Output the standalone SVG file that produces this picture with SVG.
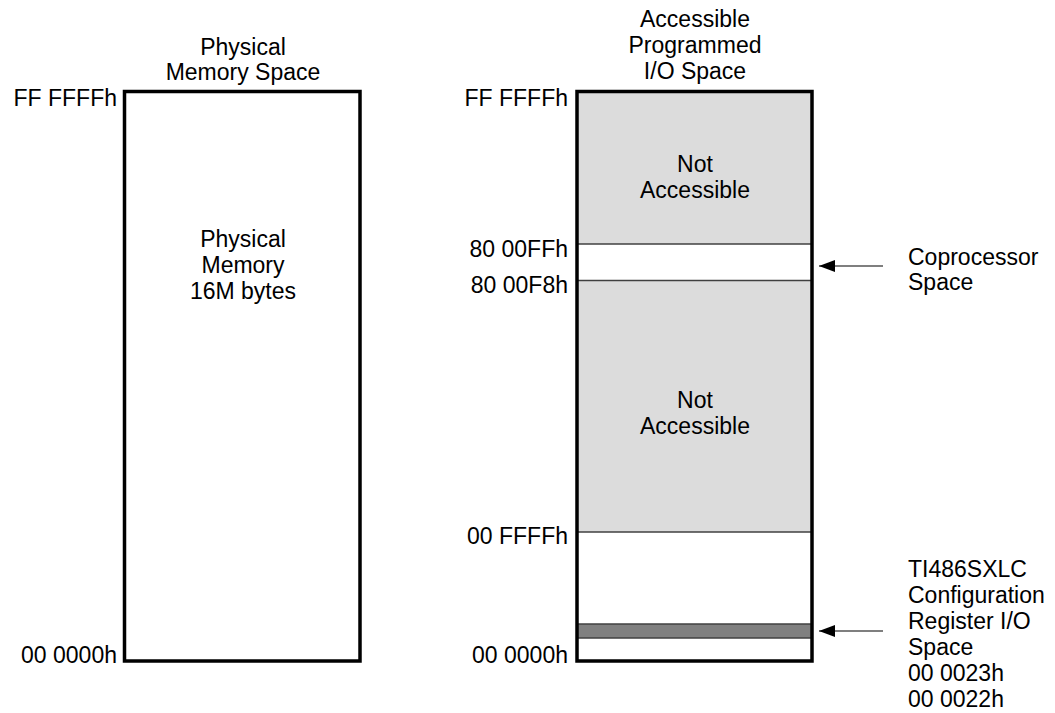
<svg xmlns="http://www.w3.org/2000/svg" width="1055" height="713" viewBox="0 0 1055 713">
<style>
text{font-family:"Liberation Sans",Arial,sans-serif;font-size:23px;fill:#000}
.c{text-anchor:middle}
.r{text-anchor:end}
.box{fill:none;stroke:#000;stroke-width:3.5}
.div{stroke:#404040;stroke-width:1.5}
.conn{stroke:#000;stroke-width:1.2;fill:none}
</style>
<defs>
<marker id="ah" markerWidth="16" markerHeight="12" refX="16" refY="6" orient="auto" markerUnits="userSpaceOnUse">
<path d="M0,0 L16,6 L0,12 Z" fill="#000"/>
</marker>
</defs>
<rect width="1055" height="713" fill="#fff"/>
<g id="physical">
<text class="c" x="243" y="55">Physical</text>
<text class="c" x="243" y="80">Memory Space</text>
<rect class="box" x="124.5" y="91.5" width="235.5" height="569.5" fill="#fff"/>
<text class="c" x="243" y="247">Physical</text>
<text class="c" x="243" y="273">Memory</text>
<text class="c" x="243" y="299">16M bytes</text>
<text class="r" x="117" y="106">FF FFFFh</text>
<text class="r" x="117" y="663">00 0000h</text>
</g>
<g id="io">
<text class="c" x="695" y="27">Accessible</text>
<text class="c" x="695" y="53">Programmed</text>
<text class="c" x="695" y="79">I/O Space</text>
<rect x="577" y="91.5" width="235" height="152.5" fill="#dcdcdc"/>
<rect x="577" y="280.5" width="235" height="251.5" fill="#dcdcdc"/>
<rect x="577" y="624" width="235" height="14" fill="#808080"/>
<line class="div" x1="577" y1="244" x2="812" y2="244"/>
<line class="div" x1="577" y1="280.5" x2="812" y2="280.5"/>
<line class="div" x1="577" y1="532" x2="812" y2="532"/>
<line class="div" x1="577" y1="624" x2="812" y2="624"/>
<line class="div" x1="577" y1="638" x2="812" y2="638"/>
<rect class="box" x="577" y="91.5" width="235" height="569.5"/>
<text class="c" x="695" y="172">Not</text>
<text class="c" x="695" y="198">Accessible</text>
<text class="c" x="695" y="408">Not</text>
<text class="c" x="695" y="434">Accessible</text>
<text class="r" x="568" y="106">FF FFFFh</text>
<text class="r" x="568" y="257">80 00FFh</text>
<text class="r" x="568" y="293">80 00F8h</text>
<text class="r" x="568" y="544">00 FFFFh</text>
<text class="r" x="568" y="663">00 0000h</text>
</g>
<g id="coproc">
<text x="908" y="265">Coprocessor</text>
<text x="908" y="290">Space</text>
</g>
<g id="config">
<text x="908" y="577">TI486SXLC</text>
<text x="908" y="603">Configuration</text>
<text x="908" y="629">Register I/O</text>
<text x="908" y="655">Space</text>
<text x="908" y="681">00 0023h</text>
<text x="908" y="707">00 0022h</text>
</g>
<g id="connectors">
<line class="conn" x1="883" y1="266" x2="819" y2="266" marker-end="url(#ah)"/>
<line class="conn" x1="883" y1="631" x2="819" y2="631" marker-end="url(#ah)"/>
</g>
</svg>
